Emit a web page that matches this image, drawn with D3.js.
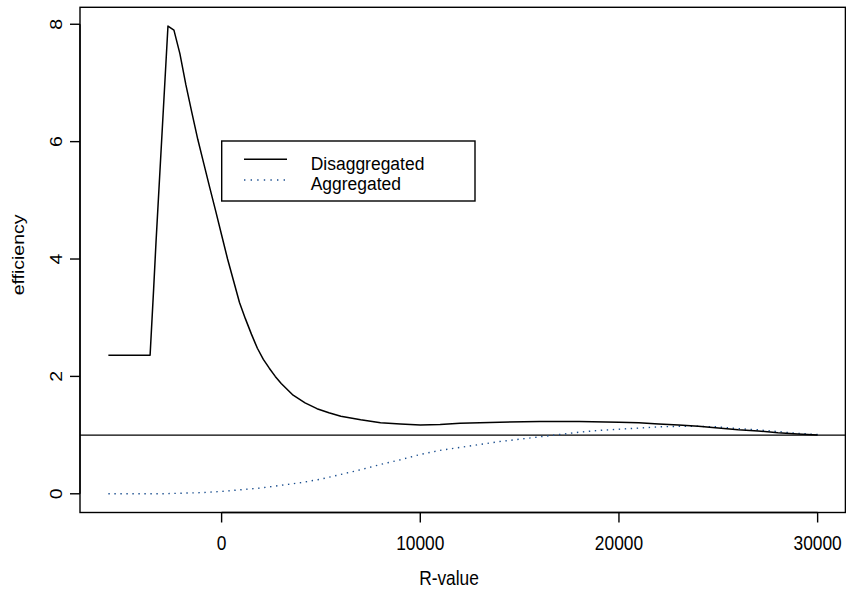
<!DOCTYPE html>
<html>
<head>
<meta charset="utf-8">
<script src="https://cdn.jsdelivr.net/npm/d3@7"></script>
<style>
  html, body { margin: 0; padding: 0; background: #fff; }
  svg { display: block; }
  text { font-family: "Liberation Sans", Arial, Helvetica, sans-serif; fill: #000; }
</style>
</head>
<body>
<svg id="chart" width="846" height="592"></svg>
<script>
// ---- data ----
const disaggX = [-5700, -3600, -3420, -3300, -2700, -2400, -2100, -1800, -1500, -1200, -900, -600, -300, 0, 300, 600, 900, 1200, 1500, 1800, 2100, 2400, 2700, 3000, 3600, 4200, 4800, 5400, 6000, 7000, 8000, 9000, 10000, 11000, 12000, 13000, 14000, 16000, 18000, 20000, 21000, 22000, 23000, 24000, 25000, 26000, 27000, 28000, 29000, 30000];
const disaggY = [2.36, 2.36, 3.5, 4.3, 7.97, 7.90, 7.50, 6.97, 6.50, 6.04, 5.63, 5.22, 4.82, 4.41, 4.00, 3.63, 3.26, 2.98, 2.72, 2.48, 2.29, 2.14, 2.00, 1.88, 1.68, 1.55, 1.45, 1.38, 1.32, 1.26, 1.21, 1.19, 1.17, 1.18, 1.20, 1.21, 1.22, 1.23, 1.23, 1.22, 1.21, 1.19, 1.17, 1.15, 1.12, 1.09, 1.07, 1.04, 1.02, 1.00];
const aggX = [-5700, -3000, -2000, -1000, 0, 1000, 2000, 3000, 4000, 5000, 6000, 7000, 8000, 9000, 10000, 11000, 12000, 13000, 14000, 15000, 16000, 17000, 18000, 19000, 20000, 21000, 22000, 23000, 24000, 25000, 26000, 27000, 28000, 29000, 30000];
const aggY = [0.00, 0.00, 0.01, 0.02, 0.04, 0.07, 0.10, 0.145, 0.19, 0.25, 0.33, 0.41, 0.50, 0.58, 0.67, 0.74, 0.79, 0.84, 0.89, 0.93, 0.97, 1.01, 1.05, 1.08, 1.10, 1.12, 1.14, 1.15, 1.15, 1.14, 1.11, 1.09, 1.06, 1.03, 1.01];
const xTicks = [0, 10000, 20000, 30000];
const yTicks = [0, 2, 4, 6, 8];
const seriesNames = ["Disaggregated", "Aggregated"];
const refLine = 1;
const xTitle = "R-value";
const yTitle = "efficiency";

// ---- layout ----
const L = 80, R = 846, T = 7.3, B = 512.5;
const SX = 0.89; // horizontal squeeze of glyphs
const FS = 19.5;
const LFS = 19;
const dotColor = "#1b4f8f";

const svg = d3.select("#chart");

function padded(ext) {
  const d = (ext[1] - ext[0]) * 0.04;
  return [ext[0] - d, ext[1] + d];
}
const allX = disaggX.concat(aggX);
const allY = disaggY.concat(aggY);
const x = d3.scaleLinear().domain(padded(d3.extent(allX))).range([L, R]);
const y = d3.scaleLinear().domain(padded(d3.extent(allY))).range([B, T]);

svg.append("clipPath").attr("id", "plotclip")
  .append("rect").attr("x", L).attr("y", T).attr("width", R - L).attr("height", B - T);

const line = d3.line().x(d => x(d[0])).y(d => y(d[1]));

const g = svg.append("g").attr("clip-path", "url(#plotclip)");

// reference line y = 1
g.append("line")
  .attr("x1", L).attr("x2", R)
  .attr("y1", y(refLine)).attr("y2", y(refLine))
  .attr("stroke", "#000").attr("stroke-width", 1.4);

// aggregated (dotted)
g.append("path")
  .datum(aggX.map((v, i) => [v, aggY[i]]))
  .attr("d", line)
  .attr("fill", "none")
  .attr("stroke", dotColor)
  .attr("stroke-width", 1.4)
  .attr("stroke-dasharray", "1.4,4.6");

// disaggregated (solid)
g.append("path")
  .datum(disaggX.map((v, i) => [v, disaggY[i]]))
  .attr("d", line)
  .attr("fill", "none")
  .attr("stroke", "#000")
  .attr("stroke-width", 1.5)
  .attr("stroke-linejoin", "round");

// box
svg.append("rect")
  .attr("x", L).attr("y", T).attr("width", R - L - 0.6).attr("height", B - T)
  .attr("fill", "none").attr("stroke", "#000").attr("stroke-width", 1.4);

// x axis
const xAxis = svg.append("g");
xAxis.append("line")
  .attr("x1", x(xTicks[0])).attr("x2", x(xTicks[xTicks.length - 1]))
  .attr("y1", B).attr("y2", B).attr("stroke", "#000").attr("stroke-width", 1.4);
xTicks.forEach(t => {
  xAxis.append("line")
    .attr("x1", x(t)).attr("x2", x(t)).attr("y1", B).attr("y2", B + 10)
    .attr("stroke", "#000").attr("stroke-width", 1.4);
  xAxis.append("text")
    .attr("transform", `translate(${x(t)},550) scale(${SX},1)`)
    .attr("text-anchor", "middle")
    .attr("font-size", FS)
    .text(t);
});
svg.append("text")
  .attr("transform", `translate(${(L + R) / 2 - 14},585) scale(${SX},1)`)
  .attr("text-anchor", "middle")
  .attr("font-size", FS)
  .text(xTitle);

// y axis
const yAxis = svg.append("g");
yAxis.append("line")
  .attr("x1", L).attr("x2", L)
  .attr("y1", y(yTicks[0])).attr("y2", y(yTicks[yTicks.length - 1]))
  .attr("stroke", "#000").attr("stroke-width", 1.4);
yTicks.forEach(t => {
  yAxis.append("line")
    .attr("x1", L - 10).attr("x2", L).attr("y1", y(t)).attr("y2", y(t))
    .attr("stroke", "#000").attr("stroke-width", 1.4);
  yAxis.append("text")
    .attr("transform", `translate(62,${y(t)}) scale(${SX},1) rotate(-90)`)
    .attr("text-anchor", "middle")
    .attr("font-size", FS)
    .text(t);
});
svg.append("text")
  .attr("transform", `translate(24,${(T + B) / 2 - 5}) scale(${SX},1) rotate(-90)`)
  .attr("text-anchor", "middle")
  .attr("font-size", FS)
  .text(yTitle);

// legend
const lg = svg.append("g");
lg.append("rect")
  .attr("x", 221.7).attr("y", 141).attr("width", 253.3).attr("height", 60)
  .attr("fill", "#fff").attr("stroke", "#000").attr("stroke-width", 1.4);
lg.append("line")
  .attr("x1", 244).attr("x2", 287).attr("y1", 159.3).attr("y2", 159.3)
  .attr("stroke", "#000").attr("stroke-width", 1.5);
lg.append("line")
  .attr("x1", 244).attr("x2", 287).attr("y1", 180).attr("y2", 180)
  .attr("stroke", dotColor).attr("stroke-width", 1.4)
  .attr("stroke-dasharray", "1.4,5.2");
lg.append("text")
  .attr("transform", `translate(310.7,169.5) scale(0.92,1)`)
  .attr("font-size", LFS).text(seriesNames[0]);
lg.append("text")
  .attr("transform", `translate(310.7,189.5) scale(0.92,1)`)
  .attr("font-size", LFS).text(seriesNames[1]);
</script>
</body>
</html>
